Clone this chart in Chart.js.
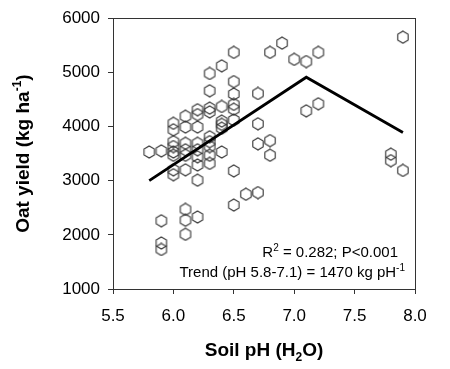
<!DOCTYPE html>
<html>
<head>
<meta charset="utf-8">
<script src="https://cdn.jsdelivr.net/npm/chart.js@4.4.1/dist/chart.umd.min.js"></script>
<style>
  html, body { margin: 0; padding: 0; background: #fff; }
</style>
</head>
<body>
<canvas id="oatChart" width="450" height="369"></canvas>
<script>
// pH columns and the yields observed at each one
const soilPh = [5.8, 5.9, 6.0, 6.1, 6.2, 6.3, 6.4, 6.5, 6.6, 6.7, 6.8, 6.9, 7.0, 7.1, 7.2, 7.8, 7.9];
const oatYield = [
    [3530],
    [3550, 2260, 1850, 1730],
    [4060, 3940, 3720, 3630, 3530, 3470, 3200, 3110],
    [4190, 3990, 3690, 3570, 3470, 3200, 2470, 2270, 2010],
    [4310, 4220, 3990, 3690, 3570, 3440, 3290, 3010, 2330],
    [4980, 4660, 4340, 4270, 3810, 3720, 3630, 3470, 3320],
    [5120, 4370, 4100, 4040, 3970, 3530],
    [5370, 4830, 4600, 4410, 4320, 4120, 3180, 2550],
    [2750],
    [4610, 4050, 3680, 2780],
    [5370, 3740, 3470],
    [5540],
    [5240],
    [5200, 4290],
    [5370, 4420],
    [3490, 3370],
    [5650, 3190]
];

// broken-stick trend
const trendPh = [5.8, 7.1, 7.9];
const trendYield = [3000, 4910, 3890];

const xTicks = [5.5, 6.0, 6.5, 7.0, 7.5, 8.0];
const yTicks = [1000, 2000, 3000, 4000, 5000, 6000];

const FONT = '"Liberation Sans", Arial, sans-serif';
const AXIS = '#333';

function hexagon(r, color) {
    const c = document.createElement('canvas');
    const s = Math.ceil(r * 2 + 2);
    c.width = s; c.height = s;
    const g = c.getContext('2d');
    g.strokeStyle = color;
    g.lineWidth = 1.1;
    g.beginPath();
    for (let k = 0; k < 6; k++) {
        const a = (-90 + 60 * k) * Math.PI / 180;
        const px = s / 2 + r * Math.cos(a), py = s / 2 + r * Math.sin(a);
        if (k === 0) g.moveTo(px, py); else g.lineTo(px, py);
    }
    g.closePath();
    g.stroke();
    return c;
}

// text with super/subscripts: parts = [[text, 'n'|'sup'|'sub'], ...]
function drawRich(ctx, parts, x, y, align, size, weight) {
    const small = Math.round(size * 0.65);
    const fontOf = k => `${weight} ${k === 'n' ? size : small}px ${FONT}`;
    const widths = parts.map(([t, k]) => { ctx.font = fontOf(k); return ctx.measureText(t).width; });
    const total = widths.reduce((a, b) => a + b, 0);
    let cx = align === 'right' ? x - total : align === 'center' ? x - total / 2 : x;
    ctx.textAlign = 'left';
    ctx.textBaseline = 'alphabetic';
    ctx.fillStyle = '#000';
    parts.forEach(([t, k], i) => {
        ctx.font = fontOf(k);
        const dy = k === 'sup' ? -size * 0.4 : k === 'sub' ? size * 0.28 : 0;
        ctx.fillText(t, cx, y + dy);
        cx += widths[i];
    });
}

const textPlugin = {
    id: 'textPlugin',
    afterDraw(chart) {
        const ctx = chart.ctx;
        const a = chart.chartArea;
        ctx.save();
        ctx.strokeStyle = AXIS;
        ctx.lineWidth = 1;
        ctx.strokeRect(Math.round(a.left) + 0.5, Math.round(a.top) + 0.5,
            Math.round(a.right - a.left), Math.round(a.bottom - a.top));

        // axis titles
        drawRich(ctx, [['Soil pH (H', 'n'], ['2', 'sub'], ['O)', 'n']],
            (a.left + a.right) / 2, 356, 'center', 19, 'bold');
        ctx.translate(23, (a.top + a.bottom) / 2);
        ctx.rotate(-Math.PI / 2);
        drawRich(ctx, [['Oat yield (kg ha', 'n'], ['-1', 'sup'], [')', 'n']],
            0, 6, 'center', 19, 'bold');
        ctx.restore();

        // regression note
        ctx.save();
        drawRich(ctx, [['R', 'n'], ['2', 'sup'], [' = 0.282; P<0.001', 'n']],
            398, 257, 'right', 15, 'normal');
        drawRich(ctx, [['Trend (pH 5.8-7.1) = 1470 kg pH', 'n'], ['-1', 'sup']],
            405, 277, 'right', 15, 'normal');
        ctx.restore();
    }
};

const points = [];
soilPh.forEach((ph, i) => oatYield[i].forEach(v => points.push({ x: ph, y: v })));
const trend = trendPh.map((ph, i) => ({ x: ph, y: trendYield[i] }));

const tickFont = { family: FONT, size: 17 };

new Chart(document.getElementById('oatChart'), {
    type: 'scatter',
    data: {
        datasets: [{
            type: 'line',
            label: 'Trend',
            data: trend,
            borderColor: '#000',
            borderWidth: 2.8,
            pointRadius: 0,
            fill: false,
            tension: 0
        }, {
            label: 'Oat yield',
            data: points,
            pointStyle: hexagon(6, '#333'),
            pointRadius: 6
        }]
    },
    plugins: [textPlugin],
    options: {
        responsive: false,
        animation: false,
        layout: { padding: { top: 18, right: 35, left: 0, bottom: 0 } },
        plugins: {
            legend: { display: false },
            tooltip: { enabled: false }
        },
        scales: {
            x: {
                type: 'linear',
                min: 5.5,
                max: 8.0,
                afterBuildTicks: s => { s.ticks = xTicks.map(v => ({ value: v })); },
                afterFit: s => { s.height = 80; },
                ticks: {
                    font: tickFont,
                    color: '#000',
                    padding: 12,
                    maxRotation: 0,
                    autoSkip: false,
                    callback: v => v.toFixed(1)
                },
                grid: { drawOnChartArea: false, tickLength: 5, color: AXIS },
                border: { color: AXIS }
            },
            y: {
                min: 1000,
                max: 6000,
                afterBuildTicks: s => { s.ticks = yTicks.map(v => ({ value: v })); },
                afterFit: s => { s.width = 113; },
                ticks: {
                    font: tickFont,
                    color: '#000',
                    padding: 8,
                    autoSkip: false,
                    callback: v => String(v)
                },
                grid: { drawOnChartArea: false, tickLength: 5, color: AXIS },
                border: { color: AXIS }
            }
        }
    }
});
</script>
</body>
</html>
